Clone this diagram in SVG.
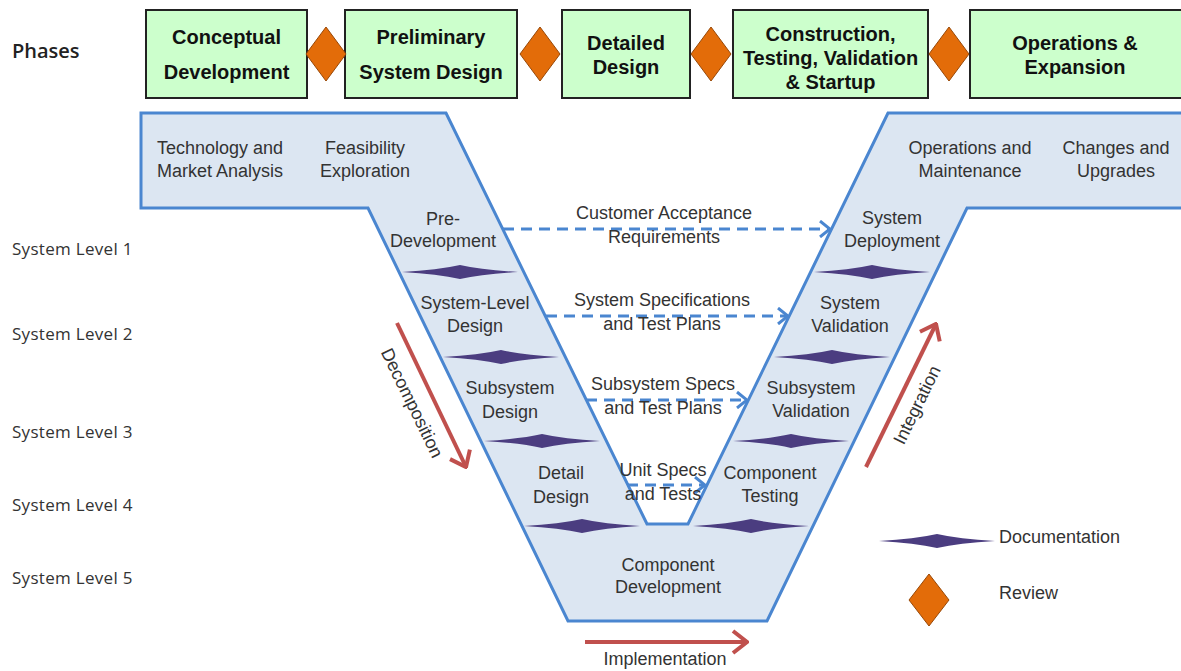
<svg xmlns="http://www.w3.org/2000/svg" xmlns:xlink="http://www.w3.org/1999/xlink" width="1181" height="671" viewBox="0 0 1181 671">
<style>
.phase{fill:#ccffcc;stroke:#222;stroke-width:2}
.pt{font-family:"Liberation Sans",Arial,sans-serif;font-size:20px;font-weight:bold;fill:#111;text-anchor:middle}
.vt{font-family:"Liberation Sans",Arial,sans-serif;font-size:18px;fill:#333;text-anchor:middle}
.lt{font-family:"Liberation Sans",Arial,sans-serif;font-size:18px;fill:#333}
.side{font-family:"Open Sans","Noto Sans",sans-serif;font-size:17px;fill:#333;letter-spacing:0.3px}
.rev{fill:#e36c09;stroke:#984807;stroke-width:1}
.doc{fill:#4b3d80}
.dash{fill:none;stroke:#4a86d0;stroke-width:3;stroke-dasharray:11 7}
.red{fill:none;stroke:#c0504d;stroke-width:4}
</style>
<defs>
<path id="docd" d="M-58,0 Q-22,-2 0,-7 Q22,-2 58,0 Q22,2 0,7 Q-22,2 -58,0Z"/>
<path id="revd" d="M0,-27 L20,0 L0,27 L-20,0Z"/>
<marker id="chev" viewBox="0 0 12 18" refX="11" refY="9" markerWidth="12" markerHeight="18" orient="auto" markerUnits="userSpaceOnUse">
<path d="M1,1 L11,9 L1,17" fill="none" stroke="#4a86d0" stroke-width="3"/>
</marker>
<marker id="redchev" viewBox="0 0 18 26" refX="16" refY="13" markerWidth="18" markerHeight="26" orient="auto" markerUnits="userSpaceOnUse">
<path d="M2,2 L16,13 L2,24" fill="none" stroke="#c0504d" stroke-width="4"/>
</marker>
</defs>
<rect width="1181" height="671" fill="#ffffff"/>

<text x="12" y="58" font-family="Open Sans, Noto Sans, sans-serif" font-size="20" font-weight="600" fill="#222">Phases</text>

<g id="phase1"><rect class="phase" x="146" y="10" width="161" height="88"/><text class="pt" x="226.5" y="44">Conceptual</text><text class="pt" x="226.5" y="79">Development</text></g>
<g id="phase2"><rect class="phase" x="345" y="10" width="172" height="88"/><text class="pt" x="431" y="44">Preliminary</text><text class="pt" x="431" y="79">System Design</text></g>
<g id="phase3"><rect class="phase" x="562" y="10" width="128" height="88"/><text class="pt" x="626" y="50">Detailed</text><text class="pt" x="626" y="74">Design</text></g>
<g id="phase4"><rect class="phase" x="733" y="10" width="195" height="88"/><text class="pt" x="830.5" y="41">Construction,</text><text class="pt" x="830.5" y="65">Testing, Validation</text><text class="pt" x="830.5" y="89">&amp; Startup</text></g>
<g id="phase5"><rect class="phase" x="970" y="10" width="220" height="88"/><text class="pt" x="1075" y="50">Operations &amp;</text><text class="pt" x="1075" y="74">Expansion</text></g>

<g id="reviews">
<use href="#revd" class="rev" x="326" y="54"/>
<use href="#revd" class="rev" x="540" y="54"/>
<use href="#revd" class="rev" x="711" y="54"/>
<use href="#revd" class="rev" x="949" y="54"/>
</g>

<g id="levels">
<text class="side" x="12" y="255">System Level 1</text>
<text class="side" x="12" y="340">System Level 2</text>
<text class="side" x="12" y="438">System Level 3</text>
<text class="side" x="12" y="511">System Level 4</text>
<text class="side" x="12" y="584">System Level 5</text>
</g>

<g id="vee">
<polygon points="141,113 446,113 647,524 688,524 888,113 1190,113 1190,208 967,208 767,621 568,621 368,208 141,208" fill="#dce6f2" stroke="#4a86d0" stroke-width="3" stroke-linejoin="miter"/>
</g>

<g id="docs">
<use href="#docd" class="doc" x="460" y="272"/>
<use href="#docd" class="doc" x="501" y="357"/>
<use href="#docd" class="doc" x="542" y="441"/>
<use href="#docd" class="doc" x="582" y="526"/>
<use href="#docd" class="doc" x="872" y="272"/>
<use href="#docd" class="doc" x="832" y="357"/>
<use href="#docd" class="doc" x="791" y="441"/>
<use href="#docd" class="doc" x="751" y="526"/>
</g>

<g id="n-tech"><text class="vt" x="220" y="154">Technology and</text><text class="vt" x="220" y="177">Market Analysis</text></g>
<g id="n-feas"><text class="vt" x="365" y="154">Feasibility</text><text class="vt" x="365" y="177">Exploration</text></g>
<g id="n-ops"><text class="vt" x="970" y="154">Operations and</text><text class="vt" x="970" y="177">Maintenance</text></g>
<g id="n-chg"><text class="vt" x="1116" y="154">Changes and</text><text class="vt" x="1116" y="177">Upgrades</text></g>
<g id="n-pre"><text class="vt" x="443" y="225">Pre-</text><text class="vt" x="443" y="247">Development</text></g>
<g id="n-sld"><text class="vt" x="475" y="309">System-Level</text><text class="vt" x="475" y="332">Design</text></g>
<g id="n-ssd"><text class="vt" x="510" y="394">Subsystem</text><text class="vt" x="510" y="418">Design</text></g>
<g id="n-dd"><text class="vt" x="561" y="479">Detail</text><text class="vt" x="561" y="503">Design</text></g>
<g id="n-sdep"><text class="vt" x="892" y="224">System</text><text class="vt" x="892" y="247">Deployment</text></g>
<g id="n-sval"><text class="vt" x="850" y="309">System</text><text class="vt" x="850" y="332">Validation</text></g>
<g id="n-ssval"><text class="vt" x="811" y="394">Subsystem</text><text class="vt" x="811" y="417">Validation</text></g>
<g id="n-ct"><text class="vt" x="770" y="479">Component</text><text class="vt" x="770" y="502">Testing</text></g>
<g id="n-cd"><text class="vt" x="668" y="571">Component</text><text class="vt" x="668" y="593">Development</text></g>

<g id="connectors">
<line class="dash" x1="503" y1="229" x2="830" y2="229" marker-end="url(#chev)"/>
<line class="dash" x1="546" y1="316" x2="788" y2="316" marker-end="url(#chev)"/>
<line class="dash" x1="586" y1="400" x2="747" y2="400" marker-end="url(#chev)"/>
<line class="dash" x1="627" y1="485" x2="705" y2="485" marker-end="url(#chev)"/>
<line class="red" x1="397" y1="323" x2="466" y2="467" marker-end="url(#redchev)"/>
<line class="red" x1="866" y1="467" x2="936" y2="324" marker-end="url(#redchev)"/>
<line class="red" x1="585" y1="642" x2="747" y2="642" marker-end="url(#redchev)"/>
</g>

<g id="conn-labels">
<text class="vt" x="664" y="219">Customer Acceptance</text>
<text class="vt" x="664" y="243">Requirements</text>
<text class="vt" x="662" y="306">System Specifications</text>
<text class="vt" x="662" y="330">and Test Plans</text>
<text class="vt" x="663" y="390">Subsystem Specs</text>
<text class="vt" x="663" y="414">and Test Plans</text>
<text class="vt" x="663" y="476">Unit Specs</text>
<text class="vt" x="663" y="500">and Tests</text>
<text class="vt" transform="translate(412,403) rotate(64)" y="6">Decomposition</text>
<text class="vt" transform="translate(917,405) rotate(-64)" y="6">Integration</text>
<text class="vt" x="665" y="665">Implementation</text>
</g>

<g id="legend">
<use href="#docd" class="doc" x="937" y="541"/>
<text class="lt" x="999" y="543">Documentation</text>
<path class="rev" d="M929,574 L949,600 L929,626 L909,600Z"/>
<text class="lt" x="999" y="599">Review</text>
</g>
</svg>
